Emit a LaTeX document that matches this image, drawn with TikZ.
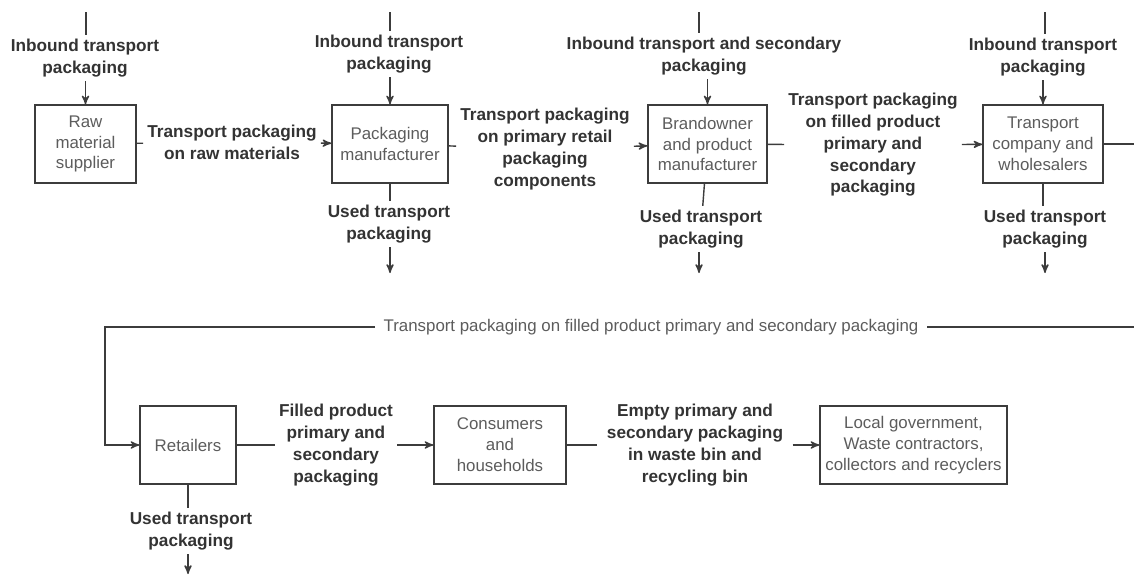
\documentclass[tikz,border=0pt]{standalone}
\usepackage{fontspec}
\setsansfont{Liberation Sans}
\usetikzlibrary{arrows}
\definecolor{linegray}{HTML}{3C3C3C}
\definecolor{boxtext}{HTML}{5C5C5C}
\definecolor{labtext}{HTML}{333333}

\begin{document}
\begin{tikzpicture}[x=0.02cm,y=-0.02cm,>=stealth',line width=0.8pt,draw=linegray,
                    box/.style={rectangle,draw=linegray,minimum height=1.56cm,align=center,
                                text=boxtext,inner sep=1pt,font=\sffamily\fontsize{9.6}{11.9}\selectfont},
                    lab/.style={align=center,inner sep=2pt,text=labtext,
                                font=\sffamily\bfseries\fontsize{9.8}{12.4}\selectfont}]
  \useasboundingbox (0,0) rectangle (1134,575);

  % boxes
  \node[box, minimum width=2.02cm] (1) at (85.5,144) {Raw\\material\\supplier};
  \node[box, minimum width=2.32cm] (2) at (390,144) {Packaging\\manufacturer};
  \node[box, minimum width=2.38cm] (3) at (707.5,144) {Brandowner\\and product\\manufacturer};
  \node[box, minimum width=2.40cm] (4) at (1043,144) {Transport\\company and\\wholesalers};
  \node[box, minimum width=1.92cm] (5) at (188,445) {Retailers};
  \node[box, minimum width=2.64cm] (6) at (500,445) {Consumers\\and\\households};
  \node[box, minimum width=3.74cm] (7) at (913.5,445) {Local government,\\Waste contractors,\\collectors and recyclers};

  % inbound
  \coordinate (T1) at (86,12);
  \coordinate (T2) at (390,12);
  \coordinate (T3) at (699,12);
  \coordinate (T4) at (1045,12);
  \node[lab] (A1) at (85,58) {Inbound transport\\packaging};
  \node[lab] (A2) at (389,54) {Inbound transport\\packaging};
  \node[lab] (A3) at (704,56) {Inbound transport and secondary\\packaging};
  \node[lab] (A4) at (1043,57) {Inbound transport\\packaging};

  % used
  \node[lab] (U2) at (389,224) {Used transport\\packaging};
  \node[lab] (U3) at (701,229) {Used transport\\packaging};
  \node[lab] (U4) at (1045,229) {Used transport\\packaging};
  \node[lab] (U5) at (191,531) {Used transport\\packaging};
  \coordinate (B2) at (390,273);
  \coordinate (B3) at (699,273);
  \coordinate (B4) at (1045,273);
  \coordinate (B5) at (188,574);

  % flows
  \node[lab] (H1) at (232,142) {Transport packaging\\on raw materials};
  \node[lab] (H2) at (545,149) {Transport packaging\\on primary retail\\packaging\\components};
  \node[lab] (H3) at (873,145) {Transport packaging\\on filled product\\primary and\\secondary\\packaging};
  \node[lab] (H5) at (336,445) {Filled product\\primary and\\secondary\\packaging};
  \node[lab, inner sep=5pt] (H6) at (695,445) {Empty primary and\\secondary packaging\\in waste bin and\\recycling bin};
  \node[lab, font=\sffamily\fontsize{9.6}{11.9}\selectfont, text=boxtext, inner sep=4.5pt] (L) at (651,327)
       {Transport packaging on filled product primary and secondary packaging};
  \coordinate (R1) at (1134,144);
  \coordinate (R2) at (1134,327);
  \coordinate (R3) at (105,327);

  \path[draw=linegray]
    (T1) edge (T1 |- A1.north)  (A1.south -| 1) edge[->] (1)
    (T2) edge (T2 |- A2.north)  (A2.south -| 2) edge[->] (2)
    (T3) edge (T3 |- A3.north)  (A3.south -| 3) edge[->] (3)
    (T4) edge (T4 |- A4.north)  (A4.south -| 4) edge[->] (4)
    (2) edge (2 |- U2.north)  (U2.south -| B2) edge[->] (B2)
    (3) edge (U3)             (U3.south -| B3) edge[->] (B3)
    (4) edge (4 |- U4.north)  (U4.south -| B4) edge[->] (B4)
    (5) edge (5 |- U5.north)  (U5.south -| B5) edge[->] (B5)
    (1) edge (H1)  (H1) edge[->] (2)
    (2) edge (H2)  (H2) edge[->] (3)
    (3) edge (H3)  (H3) edge[->] (4)
    (5) edge (H5)  (H5) edge[->] (6)
    (6) edge (H6)  (H6) edge[->] (7)
    (4) edge (R1)
    (R2) edge (L);
  \draw[->] (L) -- (R3) |- (5);
\end{tikzpicture}
\end{document}
